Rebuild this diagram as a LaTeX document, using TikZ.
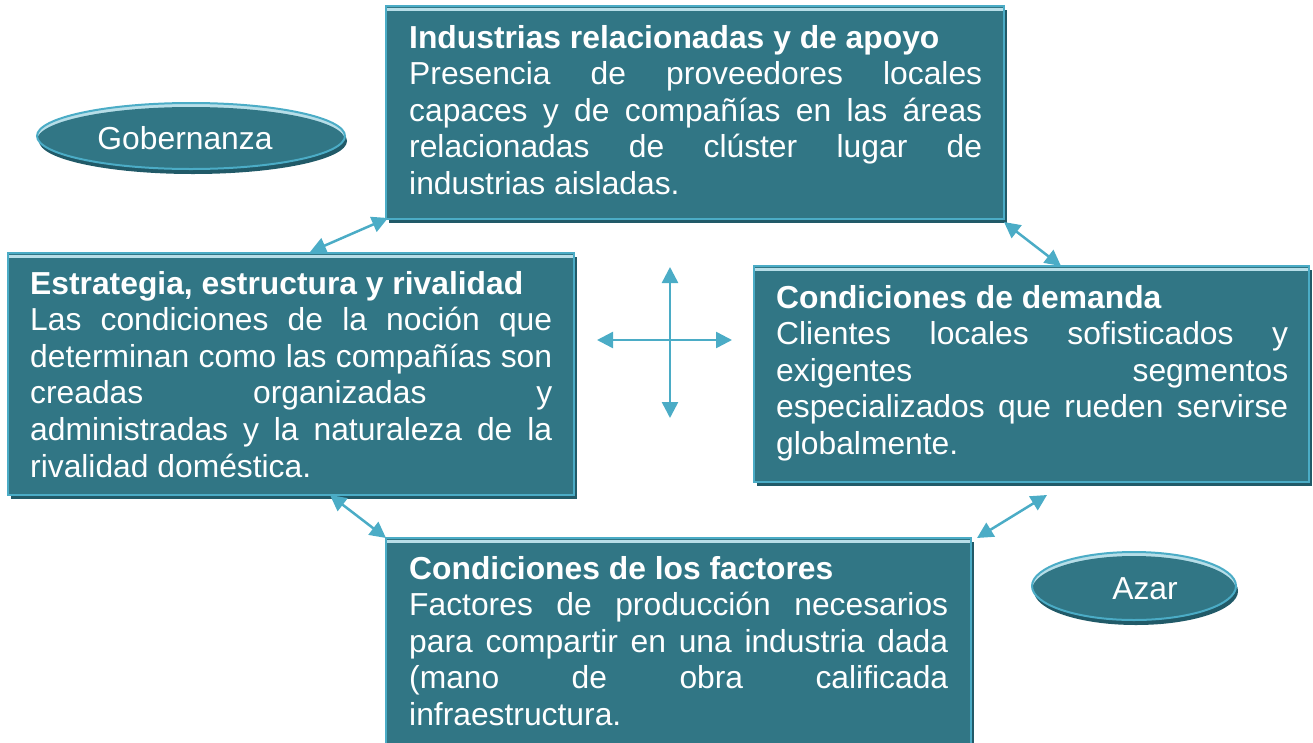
\documentclass[tikz,border=0pt]{standalone}
\usepackage{fontspec}
\setmainfont{Liberation Sans}
\usetikzlibrary{arrows.meta,shapes.geometric,shadows}
\definecolor{tealc}{HTML}{317685}
\definecolor{borderc}{HTML}{4BACC6}
\definecolor{palec}{HTML}{B7DEE8}
\definecolor{shadowc}{HTML}{215A68}
\newcommand\jline[1]{\makebox[\linewidth][s]{#1}\par}
\tikzset{
  box/.style={rectangle, inner sep=0pt, fill=tealc, draw=borderc, line width=2.5pt,
    drop shadow={shadow xshift=3pt, shadow yshift=-4pt, fill=shadowc, opacity=1},
    path picture={\draw[palec, line width=3pt]
      ([yshift=-3.5pt]path picture bounding box.north west) --
      ([yshift=-3.5pt]path picture bounding box.north east);}},
  oval/.style 2 args={ellipse, inner sep=0pt, minimum width=2*#1pt, minimum height=2*#2pt,
    fill=palec, draw=borderc, line width=2pt, text=white,
    drop shadow={shadow xshift=2pt, shadow yshift=-5pt, fill=shadowc, opacity=1},
    path picture={\fill[tealc] ([yshift=-4pt]path picture bounding box.center)
      ellipse [x radius=#1pt, y radius=#2pt];}},
  txt/.style={inner sep=0pt, anchor=base west, text=white,
    font=\fontsize{31.8}{36.6}\selectfont},
  otxt/.style={inner sep=0pt, text=white, font=\fontsize{31.8}{36}\selectfont},
  conn/.style={draw=borderc, line width=2.5pt,
    {Triangle[length=16pt,width=16pt]}-{Triangle[length=16pt,width=16pt]}}
}
\begin{document}
\begin{tikzpicture}[x=1pt,y=-1pt]
\useasboundingbox (0,0) rectangle (1313,742);
% boxes
\node[box, minimum width=618pt, minimum height=213pt] (topbox) at (695,112.5) {};
\node[box, minimum width=566pt, minimum height=242pt] (leftbox) at (291,374) {};
\node[box, minimum width=555pt, minimum height=216pt] (rightbox) at (1031.5,374) {};
\node[box, minimum width=585pt, minimum height=212pt] (botbox) at (678.5,644) {};
% ellipses
\node[oval={154}{33}] (gob) at (191,136) {};
\node[otxt] (gobtext) at (185,138) {Gobernanza};
\node[oval={102}{34}] (azar) at (1134,586) {};
\node[otxt] (azartext) at (1145,589) {Azar};
% texts
\node[txt] (toptext) at (409,48) {\parbox[t]{573pt}{%
  \textbf{Industrias relacionadas y de apoyo}\par
  \jline{Presencia de proveedores locales}
  \jline{capaces y de compañías en las áreas}
  \jline{relacionadas de clúster lugar de}
  industrias aisladas.}};
\node[txt] (lefttext) at (30,294) {\parbox[t]{522pt}{%
  \textbf{Estrategia, estructura y rivalidad}\par
  \jline{Las condiciones de la noción que}
  \jline{determinan como las compañías son}
  \jline{creadas organizadas y}
  \jline{administradas y la naturaleza de la}
  rivalidad doméstica.}};
\node[txt] (righttext) at (776,308) {\parbox[t]{512pt}{%
  \textbf{Condiciones de demanda}\par
  \jline{Clientes locales sofisticados y}
  \jline{exigentes segmentos}
  \jline{especializados que rueden servirse}
  globalmente.}};
\node[txt] (bottext) at (409,579) {\parbox[t]{539pt}{%
  \textbf{Condiciones de los factores}\par
  \jline{Factores de producción necesarios}
  \jline{para compartir en una industria dada}
  \jline{(mano de obra calificada}
  infraestructura.}};
% connector end points
\coordinate (tlA) at (310,252);
\coordinate (tlB) at (388,218);
\coordinate (trA) at (1004,222);
\coordinate (trB) at (1061,266);
\coordinate (blA) at (330,495);
\coordinate (blB) at (386,538);
\coordinate (brA) at (977,538);
\coordinate (brB) at (1047,495);
\coordinate (cN) at (670,267);
\coordinate (cS) at (670,418);
\coordinate (cW) at (597,340);
\coordinate (cE) at (732,340);
\draw[conn] (tlA) -- (tlB);
\draw[conn] (trA) -- (trB);
\draw[conn] (blA) -- (blB);
\draw[conn] (brA) -- (brB);
\draw[conn] (cN) -- (cS);
\draw[conn] (cW) -- (cE);
\end{tikzpicture}
\end{document}
